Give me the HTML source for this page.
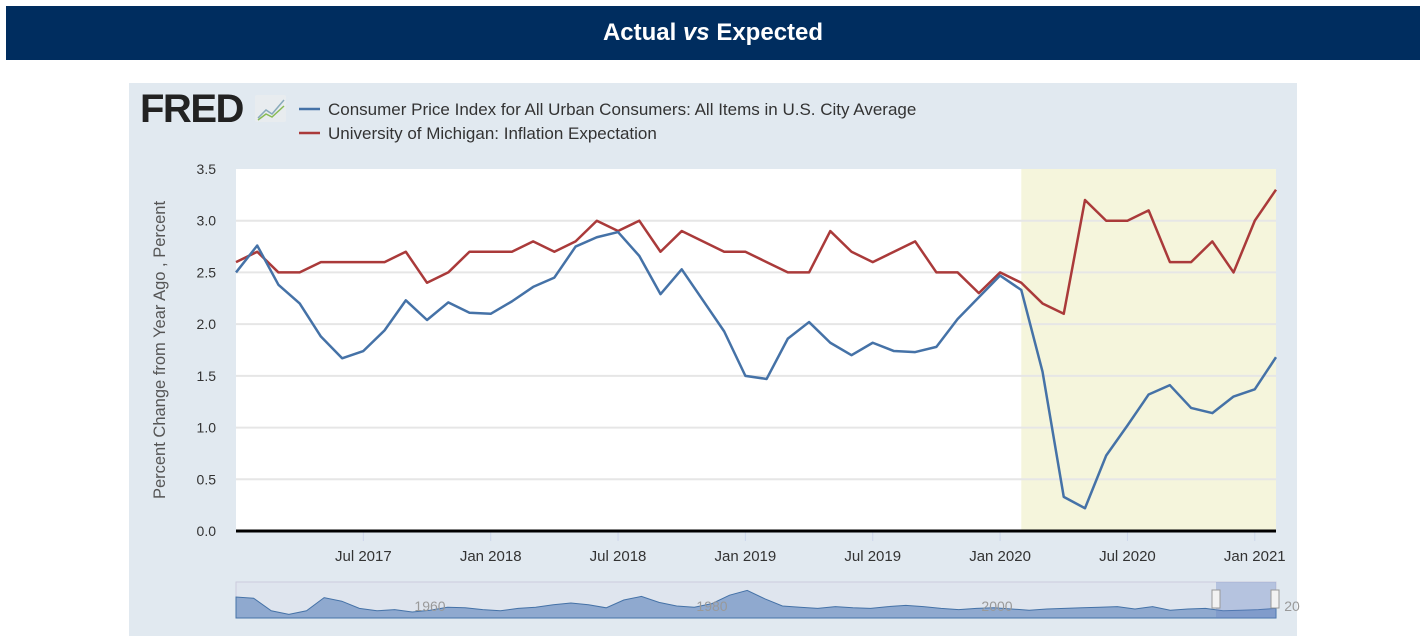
<!DOCTYPE html>
<html><head><meta charset="utf-8"><style>
body{margin:0;width:1426px;height:638px;background:#fff;font-family:"Liberation Sans",sans-serif;overflow:hidden;position:relative}
#hdr{position:absolute;left:6px;top:6px;width:1414px;height:54px;background:#002d5f;color:#fff;font-weight:bold;font-size:24px;text-align:center;line-height:54px}
#panel{position:absolute;left:129px;top:83px;width:1168px;height:553px;background:#e1e9f0}
svg{position:absolute;left:0;top:0}
</style></head><body>
<div id="hdr">Actual <i>vs</i> Expected</div>
<div id="panel"></div>
<svg id="chart" width="1426" height="638"></svg>
<script>
const months = 50; // Jan 2017 .. Feb 2021
const cpiValues = [2.50,2.76,2.38,2.20,1.88,1.67,1.74,1.94,2.23,2.04,2.21,2.11,2.10,2.22,2.36,2.45,2.75,2.84,2.89,2.66,2.29,2.53,2.23,1.93,1.50,1.47,1.86,2.02,1.82,1.70,1.82,1.74,1.73,1.78,2.05,2.26,2.47,2.33,1.54,0.33,0.22,0.73,1.02,1.32,1.41,1.19,1.14,1.30,1.37,1.68];
const umichValues = [2.6,2.7,2.5,2.5,2.6,2.6,2.6,2.6,2.7,2.4,2.5,2.7,2.7,2.7,2.8,2.7,2.8,3.0,2.9,3.0,2.7,2.9,2.8,2.7,2.7,2.6,2.5,2.5,2.9,2.7,2.6,2.7,2.8,2.5,2.5,2.3,2.5,2.4,2.2,2.1,3.2,3.0,3.0,3.1,2.6,2.6,2.8,2.5,3.0,3.3];
const yTicks = [0,0.5,1.0,1.5,2.0,2.5,3.0,3.5];
const xTickLabels = ["Jul 2017","Jan 2018","Jul 2018","Jan 2019","Jul 2019","Jan 2020","Jul 2020","Jan 2021"];
const xTickMonths = [6,12,18,24,30,36,42,48];
const recessionStart = 37, recessionEnd = 49;
const navValues = [3.5,3.3,1.2,0.6,1.2,3.4,2.8,1.6,1.2,1.4,1.0,1.3,1.8,1.7,1.4,1.2,1.6,1.8,2.2,2.5,2.2,1.7,3.0,3.6,2.6,2.0,1.8,2.4,3.8,4.6,3.2,2.0,1.8,1.6,1.9,1.7,1.6,1.9,2.1,1.9,1.6,1.4,1.6,1.7,1.5,1.3,1.5,1.6,1.7,1.8,1.9,1.5,1.9,1.3,1.5,1.6,1.2,1.3,1.4,1.6];
const NS="http://www.w3.org/2000/svg";
const svg=document.getElementById('chart');
const X0=236,X1=1276,Y0=531,Y1=169;
const xs=m=>X0+(X1-X0)*m/(months-1);
const ys=v=>Y0-(Y0-Y1)*v/3.5;
function mk(t,a,p){const e=document.createElementNS(NS,t);for(const k in a)e.setAttribute(k,a[k]);(p||svg).appendChild(e);return e;}
let e=mk('rect',{x:X0,y:Y1,width:X1-X0,height:Y0-Y1,fill:'#fff'});


e=mk('rect',{x:xs(recessionStart),y:Y1,width:X1-xs(recessionStart),height:Y0-Y1,fill:'#f5f5dc'});


yTicks.forEach(v=>{
 if(v>0&&v<3.5){const g=mk('line',{x1:X0,x2:X1,y1:ys(v),y2:ys(v),stroke:'#e6e6e6','stroke-width':2});
 
 }
 const t=mk('text',{x:216,y:ys(v)+5,'text-anchor':'end','font-size':14,fill:'#333'});t.textContent=v.toFixed(1);
 
 
});
xTickMonths.forEach((m,i)=>{
 const l=mk('line',{x1:xs(m),x2:xs(m),y1:Y0,y2:Y0+10,stroke:'#ccd6eb'});
 
 
 const t=mk('text',{x:xs(m),y:561,'text-anchor':'middle','font-size':15,fill:'#333'});t.textContent=xTickLabels[i];
 
 
});
e=mk('line',{x1:X0,x2:X1,y1:Y0,y2:Y0,stroke:'#000','stroke-width':3});


function line(vals,col,name){const p=mk('polyline',{points:vals.map((v,i)=>xs(i)+','+ys(v)).join(' '),fill:'none',stroke:col,'stroke-width':2.5,'stroke-linejoin':'round'});
 
 }
line(umichValues,'#aa3a3a','umich-inflation-expectation-line');
line(cpiValues,'#4572a7','cpi-line');
e=mk('text',{x:0,y:0,'font-size':16.5,fill:'#555','text-anchor':'middle',transform:'translate(165,350) rotate(-90)'});e.textContent='Percent Change from Year Ago , Percent';


// legend & logo
e=mk('text',{x:140,y:122,'font-size':40,'font-weight':'bold',fill:'#222','letter-spacing':-1.5});e.textContent='FRED';


e=mk('rect',{x:255,y:95,width:31,height:27,fill:'#e8ecef',rx:2});


mk('polyline',{points:'258,118 266,110 272,114 284,100',fill:'none',stroke:'#8ab',"stroke-width":1.5});
mk('polyline',{points:'258,120 266,114 272,117 284,106',fill:'none',stroke:'#8b5',"stroke-width":1.5});
[['#4572a7','Consumer Price Index for All Urban Consumers: All Items in U.S. City Average',109],['#aa3a3a','University of Michigan: Inflation Expectation',133]].forEach(([c,t,y],i)=>{
 const g=mk('g',{});
 
 
 mk('line',{x1:299,x2:320,y1:y,y2:y,stroke:c,'stroke-width':2.5},g);
 const tx=mk('text',{x:328,y:y+6,'font-size':17,fill:'#333'},g);tx.textContent=t;
});
// navigator
const NY0=618,NY1=582;
e=mk('rect',{x:X0,y:NY1,width:X1-X0,height:NY0-NY1,fill:'#dfe5ee',stroke:'#ccd'});


const nx=i=>X0+(X1-X0)*i/(navValues.length-1), ny=v=>NY0-v*6;
let d='M'+X0+','+NY0+' '+navValues.map((v,i)=>'L'+nx(i)+','+ny(v)).join(' ')+' L'+X1+','+NY0+'Z';
e=mk('path',{d:d,fill:'#8fa9cf',stroke:'#4572a7','stroke-width':1});


[['1960',430],['1980',712],['2000',997],['20',1292]].forEach(([t,x])=>{const tt=mk('text',{x:x,y:611,'text-anchor':'middle','font-size':14,fill:'#999'});tt.textContent=t;
 
 });
e=mk('rect',{x:1216,y:582,width:60,height:36,fill:'rgba(102,133,194,0.35)'});


[1216,1275].forEach(x=>{const h=mk('rect',{x:x-4,y:590,width:8,height:18,fill:'#f2f2f2',stroke:'#999'});
 
 });
</script>
</body></html>
